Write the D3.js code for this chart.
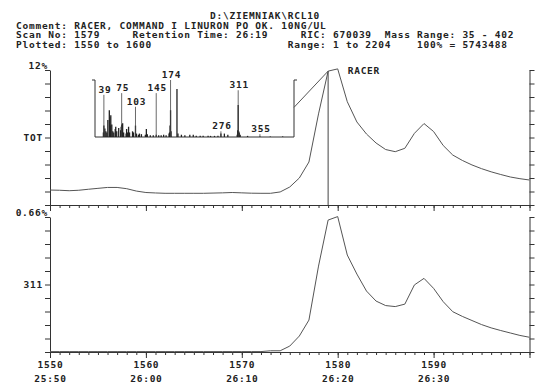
<!DOCTYPE html>
<html>
<head>
<meta charset="utf-8">
<script src="https://cdn.jsdelivr.net/npm/d3@7"></script>
<style>
body { margin: 0; background: #fff; }
svg text { font-family: "DejaVu Sans Mono", monospace; font-size: 9.5px; font-weight: bold; letter-spacing: 0.75px; fill: #222; white-space: pre; }
</style>
</head>
<body>
<div class="chart"></div>
<script>
// scan numbers along the x axis
var scans = [1550, 1551, 1552, 1553, 1554, 1555, 1556, 1557, 1558, 1559,
	1560, 1561, 1562, 1563, 1564, 1565, 1566, 1567, 1568, 1569,
	1570, 1571, 1572, 1573, 1574, 1575, 1576, 1577, 1578, 1579,
	1580, 1581, 1582, 1583, 1584, 1585, 1586, 1587, 1588, 1589,
	1590, 1591, 1592, 1593, 1594, 1595, 1596, 1597, 1598, 1599, 1600];

// total ion current, % of max
var ticValues = [1.33, 1.31, 1.27, 1.31, 1.40, 1.48, 1.56, 1.56, 1.45, 1.24,
	1.11, 1.07, 1.04, 1.04, 1.04, 1.04, 1.04, 1.06, 1.08, 1.11,
	1.08, 1.05, 1.04, 1.04, 1.16, 1.60, 2.40, 3.82, 8.10, 11.90,
	12.10, 9.18, 7.38, 6.31, 5.51, 4.93, 4.74, 5.04, 6.37, 7.24,
	6.53, 5.29, 4.44, 3.96, 3.56, 3.23, 2.95, 2.71, 2.49, 2.34, 2.22];

// ion 311 trace, %
var ion311Values = [0.002, 0.002, 0.002, 0.002, 0.002, 0.002, 0.002, 0.002, 0.002, 0.002,
	0.002, 0.002, 0.002, 0.002, 0.002, 0.002, 0.002, 0.002, 0.002, 0.002,
	0.002, 0.002, 0.002, 0.006, 0.006, 0.029, 0.078, 0.156, 0.420, 0.645,
	0.662, 0.474, 0.381, 0.298, 0.249, 0.227, 0.222, 0.234, 0.328, 0.360,
	0.311, 0.246, 0.197, 0.174, 0.154, 0.134, 0.118, 0.105, 0.093, 0.081, 0.072];

// mass spectrum of scan 1579 (m/z, relative intensity)
var specMasses = [38, 39, 41, 43, 45, 47, 50, 51, 52, 53, 55, 57, 59, 62, 63, 65, 69, 73, 74, 75,
	77, 79, 84, 85, 87, 89, 91, 97, 99, 103, 105, 109, 111, 115, 123, 125, 127, 133, 139, 145,
	150, 155, 160, 165, 171, 172, 173, 174, 175, 187, 189, 196, 203, 213, 220, 226, 234, 240, 250, 255,
	263, 270, 276, 283, 290, 309, 310, 311, 312, 313, 315, 330, 355, 376, 401];
var specIntensities = [8, 20, 15, 10, 8, 30, 47, 35, 20, 38, 22, 10, 8, 14, 18, 10, 16, 12, 18, 22,
	24, 8, 6, 14, 8, 18, 8, 10, 8, 20, 6, 4, 6, 5, 4, 14, 5, 3, 3, 4,
	3, 3, 4, 3, 6, 8, 20, 47, 10, 84, 6, 4, 3, 4, 4, 2, 2, 2, 2, 2,
	2, 2, 6, 6, 4, 4, 12, 56, 10, 8, 4, 2, 1, 1, 1];

var peakLabels = [39, 75, 103, 145, 174, 276, 311, 355];
var peakLabelLevels = [74, 77, 53, 77, 100, 10, 82, 5];

var headerLines = [
	"                              D:\\ZIEMNIAK\\RCL10",
	"Comment: RACER, COMMAND I LINURON PO OK. 10NG/UL",
	"Scan No: 1579     Retention Time: 26:19     RIC: 670039  Mass Range: 35 - 402",
	"Plotted: 1550 to 1600                     Range: 1 to 2204    100% = 5743488"
];

var scanTicks = [1550, 1560, 1570, 1580, 1590, 1600];
var scanLabels = ["1550", "1560", "1570", "1580", "1590", ""];
var timeLabels = ["25:50", "26:00", "26:10", "26:20", "26:30", ""];
var markerScan = 1579;

var svg = d3.select(".chart").append("svg").attr("width", 550).attr("height", 388);

var x = d3.scaleLinear().domain([1550, 1600]).range([50, 529.5]);
var yTop = d3.scaleLinear().domain([0, 12]).range([205, 70]);
var yBot = d3.scaleLinear().domain([0, 0.66]).range([352, 217]);

//header text
svg.selectAll(".hdr").data(headerLines).enter().append("text")
	.attr("class", "hdr")
	.attr("x", 16)
	.attr("y", function(d, i) { return 19 + i * 9.5; })
	.text(function(d) { return d; });

//frame for each panel: left/right ticked axes plus minor & major ticks on bottom
function panel(y, top) {
	var fracTicks = d3.range(0, 11).map(function(i) { return y.domain()[0] + i * (y.domain()[1] - y.domain()[0]) / 10; });
	svg.append("g").attr("transform", "translate(" + x.range()[0] + ",0)").style("color", "#333")
		.call(d3.axisLeft(y).tickValues(fracTicks).tickSize(5).tickSizeOuter(0).tickFormat(""));
	svg.append("g").attr("transform", "translate(" + x.range()[1] + ",0)").style("color", "#333")
		.call(d3.axisRight(y).tickValues(fracTicks).tickSize(5).tickSizeOuter(0).tickFormat(""));
	svg.append("g").attr("transform", "translate(0," + y.range()[0] + ")").style("color", "#333")
		.call(d3.axisBottom(x).tickValues(scans).tickSize(3).tickSizeOuter(0).tickFormat(""));
	var major = svg.append("g").attr("transform", "translate(0," + y.range()[0] + ")").style("color", "#333")
		.call(d3.axisBottom(x).tickValues(scanTicks).tickSize(6).tickSizeOuter(0)
			.tickFormat(top ? "" : function(d, i) { return scanLabels[i]; }));
	return major;
}

panel(yTop, true);
var bottomAxis = panel(yBot, false);
bottomAxis.selectAll(".tick text").each(function(d, i) {
	d3.select(this).append("tspan").attr("x", 0).attr("dy", "1.45em").text(timeLabels[i]);
});

//axis captions
svg.append("text").attr("x", 48).attr("y", yTop(12) - 1).attr("text-anchor", "end").text("12%");
svg.append("text").attr("x", 43).attr("y", yTop(6) + 3.5).attr("text-anchor", "end").text("TOT");
svg.append("text").attr("x", 48).attr("y", yBot(0.66) - 1).attr("text-anchor", "end").text("0.66%");
svg.append("text").attr("x", 43).attr("y", yBot(0.33) + 3.5).attr("text-anchor", "end").text("311");

//traces
var lineTop = d3.line().x(function(d, i) { return x(scans[i]); }).y(function(d) { return yTop(d); });
var lineBot = d3.line().x(function(d, i) { return x(scans[i]); }).y(function(d) { return yBot(d); });

svg.append("path").attr("d", lineTop(ticValues)).attr("fill", "none").attr("stroke", "#555").attr("stroke-width", 1);
svg.append("path").attr("d", lineBot(ion311Values)).attr("fill", "none").attr("stroke", "#555").attr("stroke-width", 1);

//mass spectrum inset
var xm = d3.scaleLinear().domain([21, 424]).range([95, 294]);
var ym = d3.scaleLinear().domain([0, 100]).range([137, 80]);

svg.append("path")
	.attr("d", "M" + (xm(21) - 3) + "," + ym(100) + "H" + xm(21) + "V" + ym(0) + "H" + xm(424) + "V" + ym(100) + "H" + (xm(424) + 3))
	.attr("fill", "none").attr("stroke", "#333").attr("stroke-width", 1);

svg.selectAll(".bar").data(specMasses).enter().append("line")
	.attr("class", "bar")
	.attr("x1", function(d) { return xm(d); }).attr("x2", function(d) { return xm(d); })
	.attr("y1", ym(0)).attr("y2", function(d, i) { return ym(specIntensities[i]); })
	.attr("stroke", "#222").attr("stroke-width", 1.3);

svg.selectAll(".leader").data(peakLabels).enter().append("line")
	.attr("class", "leader")
	.attr("x1", function(d) { return xm(d); }).attr("x2", function(d) { return xm(d); })
	.attr("y1", ym(0)).attr("y2", function(d, i) { return ym(peakLabelLevels[i]); })
	.attr("stroke", "#444").attr("stroke-width", 0.8);

svg.selectAll(".plabel").data(peakLabels).enter().append("text")
	.attr("class", "plabel")
	.attr("x", function(d) { return xm(d) + 1; })
	.attr("y", function(d, i) { return ym(peakLabelLevels[i]) - 2; })
	.attr("text-anchor", "middle")
	.text(function(d) { return d; });

//scan marker and link to inset
var mi = scans.indexOf(markerScan);
svg.append("line").attr("x1", x(markerScan)).attr("x2", x(markerScan))
	.attr("y1", yTop(ticValues[mi])).attr("y2", yTop(0))
	.attr("stroke", "#444").attr("stroke-width", 1);
svg.append("line").attr("x1", xm(424)).attr("y1", ym(52))
	.attr("x2", x(markerScan)).attr("y2", yTop(ticValues[mi]))
	.attr("stroke", "#555").attr("stroke-width", 1);

svg.append("text").attr("x", x(1580) + 10).attr("y", yTop(12) + 4).text("RACER");
</script>
</body>
</html>
